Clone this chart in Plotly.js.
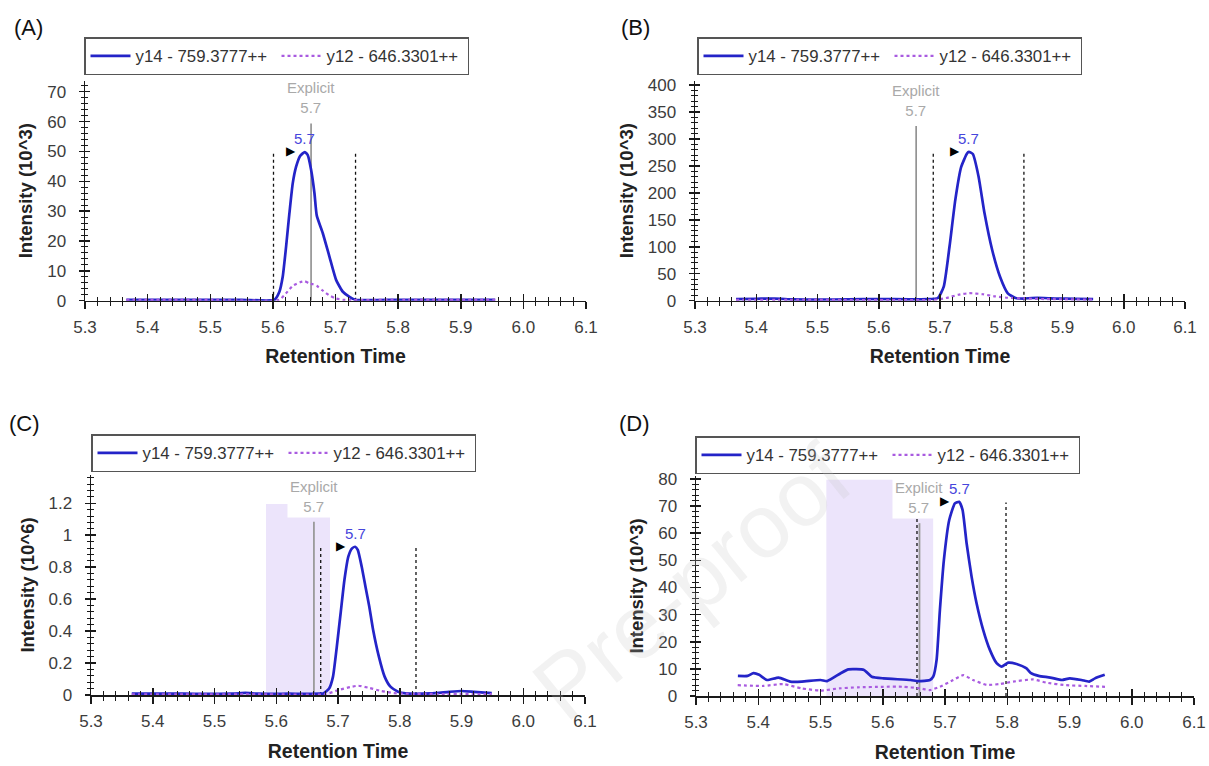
<!DOCTYPE html>
<html><head><meta charset="utf-8">
<script src="https://cdn.plot.ly/plotly-3.0.1.min.js"></script>
<style>html,body{margin:0;padding:0;background:#fff}#chart{width:1209px;height:766px}</style>
</head><body><div id="chart"></div>
<script>
// ---------------- DATA ----------------
const seriesNames = ['y14 - 759.3777++', 'y12 - 646.3301++'];
const panelLabels = ['(A)', '(B)', '(C)', '(D)'];
const yTitles = ['Intensity (10^3)', 'Intensity (10^3)', 'Intensity (10^6)', 'Intensity (10^3)'];
const xTitle = 'Retention Time';
const peakText = '5.7';
const explicitText = 'Explicit<br>5.7';
const watermarkText = 'Pre-proof';

// Panel A
const rtA_y14 = [5.366, 5.45, 5.55, 5.6024, 5.6104, 5.6157, 5.6211, 5.6264, 5.6317, 5.6371, 5.6435, 5.651, 5.6557, 5.6611, 5.6664, 5.6701, 5.6797, 5.6904, 5.7011, 5.7117, 5.7224, 5.732, 5.80, 5.88, 5.955];
const intA_y14 = [0.3, 0.3, 0.3, 0.3, 3.0, 8.0, 18.1, 29.3, 39.3, 44.9, 48.5, 49.8, 48.8, 43.8, 36.0, 28.5, 22.6, 14.7, 6.9, 3.0, 1.3, 0.3, 0.3, 0.3, 0.3];
const rtA_y12 = [5.366, 5.50, 5.61, 5.621, 5.6317, 5.6435, 5.651, 5.658, 5.664, 5.670, 5.679, 5.69, 5.70, 5.712, 5.80, 5.955];
const intA_y12 = [0.3, 0.3, 0.3, 2.5, 5.0, 6.2, 6.5, 5.8, 5.5, 5.0, 3.5, 1.8, 0.8, 0.3, 0.3, 0.3];

// Panel B
const rtB_y14 = [5.367, 5.40, 5.43, 5.46, 5.50, 5.55, 5.60, 5.65, 5.68, 5.6966, 5.7061, 5.7155, 5.725, 5.7346, 5.7441, 5.7472, 5.7536, 5.763, 5.7727, 5.7852, 5.798, 5.8107, 5.8233, 5.836, 5.85, 5.87, 5.89, 5.92, 5.95];
const intB_y14 = [3, 3.5, 4, 2.5, 2, 2.5, 3, 2.5, 3, 5, 26, 100, 187, 248, 273, 276, 272, 230, 162, 94, 44.5, 13.7, 5, 4, 5, 5, 4, 3.5, 3];
const rtB_y12 = [5.367, 5.50, 5.69, 5.71, 5.73, 5.748, 5.77, 5.79, 5.81, 5.84, 5.87, 5.95];
const intB_y12 = [1.5, 1.5, 1.5, 5, 11, 14, 12, 8, 5.5, 4, 3, 2];

// Panel C
const rtC_y14 = [5.366, 5.45, 5.53, 5.55, 5.57, 5.62, 5.67, 5.6764, 5.6856, 5.6919, 5.698, 5.7042, 5.7104, 5.7167, 5.7228, 5.7277, 5.732, 5.7384, 5.7445, 5.7507, 5.7569, 5.7662, 5.7755, 5.7849, 5.7972, 5.8096, 5.85, 5.88, 5.90, 5.92, 5.949];
const intC_y14 = [0.008, 0.008, 0.008, 0.013, 0.008, 0.008, 0.008, 0.01, 0.04, 0.115, 0.30, 0.51, 0.72, 0.866, 0.918, 0.928, 0.908, 0.803, 0.678, 0.553, 0.407, 0.24, 0.115, 0.052, 0.021, 0.01, 0.01, 0.02, 0.025, 0.02, 0.012];
const rtC_y12 = [5.366, 5.60, 5.68, 5.70, 5.72, 5.733, 5.75, 5.77, 5.79, 5.81, 5.949];
const intC_y12 = [0.004, 0.004, 0.005, 0.03, 0.05, 0.058, 0.045, 0.025, 0.012, 0.008, 0.005];

// Panel D
const rtD_y14 = [5.3673, 5.3829, 5.3922, 5.4015, 5.414, 5.4327, 5.4514, 5.47, 5.5, 5.5107, 5.5325, 5.5449, 5.5699, 5.5823, 5.601, 5.6448, 5.6571, 5.6759, 5.6811, 5.6865, 5.6918, 5.6982, 5.7068, 5.7159, 5.7228, 5.7282, 5.7347, 5.7427, 5.7507, 5.7614, 5.7721, 5.7829, 5.7909, 5.8015, 5.815, 5.831, 5.8381, 5.8505, 5.8692, 5.8879, 5.9004, 5.9192, 5.9316, 5.9409, 5.9566];
const intD_y14 = [7.4, 7.4, 8.4, 7.8, 5.9, 6.8, 5.3, 5.3, 5.9, 5.5, 8.4, 9.8, 9.6, 7.1, 6.5, 5.9, 5.5, 5.9, 7.1, 13.3, 31.7, 50.1, 64.9, 71.0, 71.6, 68.6, 56.3, 44.0, 34.2, 24.3, 17.0, 12.1, 10.8, 12.3, 11.8, 10.2, 8.4, 7.4, 6.8, 5.9, 6.5, 5.9, 5.3, 6.5, 7.8];
const rtD_y12 = [5.367, 5.408, 5.44, 5.47, 5.50, 5.53, 5.56, 5.60, 5.633, 5.66, 5.6757, 5.6918, 5.7132, 5.7292, 5.745, 5.767, 5.788, 5.8095, 5.8416, 5.863, 5.894, 5.925, 5.957];
const intD_y12 = [4.0, 3.7, 4.4, 2.8, 2.0, 2.8, 3.2, 3.4, 3.4, 2.8, 2.2, 3.4, 5.9, 7.7, 5.9, 4.1, 4.4, 5.3, 6.1, 4.9, 4.0, 3.7, 3.4];

// Peak / boundary / explicit markers (A, B, C, D)
const peakRT = [5.651, 5.7472, 5.7277, 5.7228];
const peakH = [49.8, 276, 0.928, 71.6];
const explicitRT = [5.661, 5.661, 5.661, 5.659];
const explicitTop = [59.4, 324, 1.085, 63.7];
const boundLeft = [5.601, 5.689, 5.672, 5.655];
const boundRight = [5.732, 5.837, 5.8263, 5.798];
const boundTop = [49.9, 276, 0.928, 71.3];
// shaded windows (null = none)
const shadeStart = [null, null, 5.5834, 5.5094];
const shadeEnd = [null, null, 5.687, 5.681];
const shadeTop = [null, null, 1.196, 79.7];

const xTickVals = [5.3, 5.4, 5.5, 5.6, 5.7, 5.8, 5.9, 6.0, 6.1];
const yTickStep = [10, 50, 0.2, 10];
const yMax = [73.7, 408, 1.377, 81.1];

const series = [
  [rtA_y14, intA_y14, rtA_y12, intA_y12],
  [rtB_y14, intB_y14, rtB_y12, intB_y12],
  [rtC_y14, intC_y14, rtC_y12, intC_y12],
  [rtD_y14, intD_y14, rtD_y12, intD_y12]
];

// ---------------- LAYOUT GEOMETRY (pixels) ----------------
const W = 1209, H = 766;
const FONT = '"Liberation Sans", Arial, sans-serif';
const BLUE = '#2424c8', PURPLE = '#a95be0', SHADE = 'rgb(236,228,251)';
const geo = [
  {x0: 85, x1: 586, yTop: 80.7, yBot: 300.7, lab: [12, 28], leg: [84, 37]},
  {x0: 695, x1: 1185, yTop: 80.7, yBot: 300.7, lab: [619, 28], leg: [697, 37]},
  {x0: 91, x1: 585, yTop: 475, yBot: 695, lab: [7, 423], leg: [91, 434]},
  {x0: 696, x1: 1194, yTop: 476, yBot: 696, lab: [617, 423], leg: [695, 436]}
];

const data = [];
const layout = {
  width: W, height: H, margin: {l: 0, r: 0, t: 0, b: 0},
  paper_bgcolor: '#fff', plot_bgcolor: 'rgba(0,0,0,0)',
  font: {family: FONT, color: '#333'},
  showlegend: true, annotations: [], hovermode: false
};

const tickCol = '#1a1a1a';

for (let i = 0; i < 4; i++) {
  const g = geo[i];
  const s = i === 0 ? '' : String(i + 1);
  const xa = 'x' + s, ya = 'y' + s;
  const ox = 'x' + (i + 5), oy = 'y' + (i + 5);
  const legId = i === 0 ? 'legend' : 'legend' + (i + 1);
  const xd = [g.x0 / W, g.x1 / W];
  const yd = [1 - g.yBot / H, 1 - g.yTop / H];

  if (shadeStart[i] !== null) {
    data.push({type: 'scatter', mode: 'lines', xaxis: xa, yaxis: ya,
      x: [shadeStart[i], shadeStart[i], shadeEnd[i], shadeEnd[i], shadeStart[i]],
      y: [0, shadeTop[i], shadeTop[i], 0, 0],
      fill: 'toself', fillcolor: SHADE, line: {width: 0, color: SHADE},
      showlegend: false, hoverinfo: 'skip'});
  }
  data.push({type: 'scatter', mode: 'lines', xaxis: xa, yaxis: ya,
    x: [explicitRT[i], explicitRT[i]], y: [0, explicitTop[i]],
    line: {color: i === 1 ? '#666' : '#9a9a9a', width: i === 1 ? 1.2 : 1.8},
    showlegend: false, hoverinfo: 'skip'});
  data.push({type: 'scatter', mode: 'lines', xaxis: xa, yaxis: ya,
    x: [boundLeft[i], boundLeft[i], null, boundRight[i], boundRight[i]],
    y: [0, boundTop[i], null, 0, boundTop[i]],
    line: {color: '#111', width: 1.3, dash: 'dot'},
    showlegend: false, hoverinfo: 'skip'});
  const sr = series[i];
  data.push({type: 'scatter', mode: 'lines', xaxis: xa, yaxis: ya, legend: legId,
    name: seriesNames[0], x: sr[0], y: sr[1],
    line: {color: BLUE, width: 2.7, shape: 'spline', smoothing: 0.5}});
  data.push({type: 'scatter', mode: 'lines', xaxis: xa, yaxis: ya, legend: legId,
    name: seriesNames[1], x: sr[2], y: sr[3],
    line: {color: PURPLE, width: 2.2, dash: 'dot', shape: 'spline', smoothing: 0.5}});
  data.push({type: 'scatter', mode: 'lines', xaxis: ox, yaxis: ya, x: [null], y: [null], showlegend: false, hoverinfo: 'skip'});
  data.push({type: 'scatter', mode: 'lines', xaxis: xa, yaxis: oy, x: [null], y: [null], showlegend: false, hoverinfo: 'skip'});

  const xCommon = {range: [5.3, 6.1], tickmode: 'array', tickvals: xTickVals, tickformat: '.1f',
    tickwidth: 1.5, tickcolor: tickCol, showgrid: false, zeroline: false, fixedrange: true,
    minor: {dtick: 0.02, tick0: 5.3, ticklen: 4, tickwidth: 1, tickcolor: tickCol, showgrid: false}};
  const yCommon = {range: [0, yMax[i]], tick0: 0, dtick: yTickStep[i],
    tickwidth: 1.5, tickcolor: tickCol, showgrid: false, zeroline: false, fixedrange: true,
    minor: {dtick: yTickStep[i] / 5, tick0: 0, ticklen: 3, tickwidth: 1, tickcolor: tickCol, showgrid: false}};

  layout['xaxis' + s] = Object.assign({}, xCommon, {
    domain: xd, anchor: ya, ticks: 'outside', ticklen: 7,
    minor: Object.assign({}, xCommon.minor, {ticks: 'outside'}),
    showline: true, linecolor: tickCol, linewidth: 1.5,
    tickfont: {family: FONT, size: 17, color: '#3c3c3c'}, ticklabelstandoff: 3,
    title: {text: xTitle, font: {family: FONT, size: 19.5, color: '#222', weight: 'bold'}, standoff: 14}
  });
  layout['xaxis' + (i + 5)] = Object.assign({}, xCommon, {
    overlaying: xa, anchor: ya, side: 'bottom', ticks: 'inside', ticklen: 7,
    minor: Object.assign({}, xCommon.minor, {ticks: 'inside'}),
    showline: false, showticklabels: false
  });
  layout['yaxis' + s] = Object.assign({}, yCommon, {
    domain: yd, anchor: xa, ticks: 'outside', ticklen: 5,
    minor: Object.assign({}, yCommon.minor, {ticks: 'outside'}),
    showline: true, linecolor: tickCol, linewidth: 1.5,
    tickfont: {family: FONT, size: 17, color: '#3c3c3c'}, ticklabelstandoff: 9,
    title: {text: yTitles[i], font: {family: FONT, size: 18.5, color: '#222', weight: 'bold'}, standoff: 9}
  });
  layout['yaxis' + (i + 5)] = Object.assign({}, yCommon, {
    overlaying: ya, anchor: xa, side: 'left', ticks: 'inside', ticklen: 5,
    minor: Object.assign({}, yCommon.minor, {ticks: 'inside'}),
    showline: false, showticklabels: false
  });

  layout[legId] = {
    x: g.leg[0] / W, y: 1 - g.leg[1] / H, xanchor: 'left', yanchor: 'top',
    orientation: 'h', bgcolor: '#fff', bordercolor: '#555', borderwidth: 1.5,
    font: {family: FONT, size: 16.8, color: '#333'}, itemwidth: 40,
    entrywidth: 136, entrywidthmode: 'pixels', tracegroupgap: 0
  };

  layout.annotations.push({xref: 'paper', yref: 'paper', x: g.lab[0] / W, y: 1 - g.lab[1] / H,
    xanchor: 'left', yanchor: 'middle', text: panelLabels[i], showarrow: false,
    font: {family: FONT, size: 22, color: '#111'}});
  layout.annotations.push({xref: xa, yref: ya, x: explicitRT[i], y: explicitTop[i],
    xanchor: 'center', yanchor: 'bottom', yshift: 4, text: explicitText, showarrow: false,
    bgcolor: i >= 2 ? '#fff' : 'rgba(0,0,0,0)', borderpad: 2,
    font: {family: FONT, size: 15, color: '#a9a9a9'}});
  layout.annotations.push({xref: xa, yref: ya, x: peakRT[i], y: peakH[i],
    xanchor: 'center', yanchor: 'bottom', yshift: 4, text: peakText, showarrow: false,
    bgcolor: i === 3 ? '#fff' : 'rgba(0,0,0,0)', borderpad: 0,
    font: {family: FONT, size: 15, color: '#4646dc'}});
  layout.annotations.push({xref: xa, yref: ya, x: peakRT[i], y: peakH[i],
    xanchor: 'right', yanchor: 'middle', xshift: -7, yshift: 1, text: '\u25B6', showarrow: false,
    font: {family: '"DejaVu Sans", sans-serif', size: 12, color: '#000'}});
}

layout.annotations.push({xref: 'paper', yref: 'paper', x: 692 / W, y: 1 - 582 / H,
  xanchor: 'center', yanchor: 'middle',
  text: watermarkText, textangle: -39, showarrow: false,
  font: {family: FONT, size: 90, color: 'rgba(195,195,195,0.22)'}});

Plotly.newPlot('chart', data, layout, {displayModeBar: false, staticPlot: true});
</script>
</body></html>
